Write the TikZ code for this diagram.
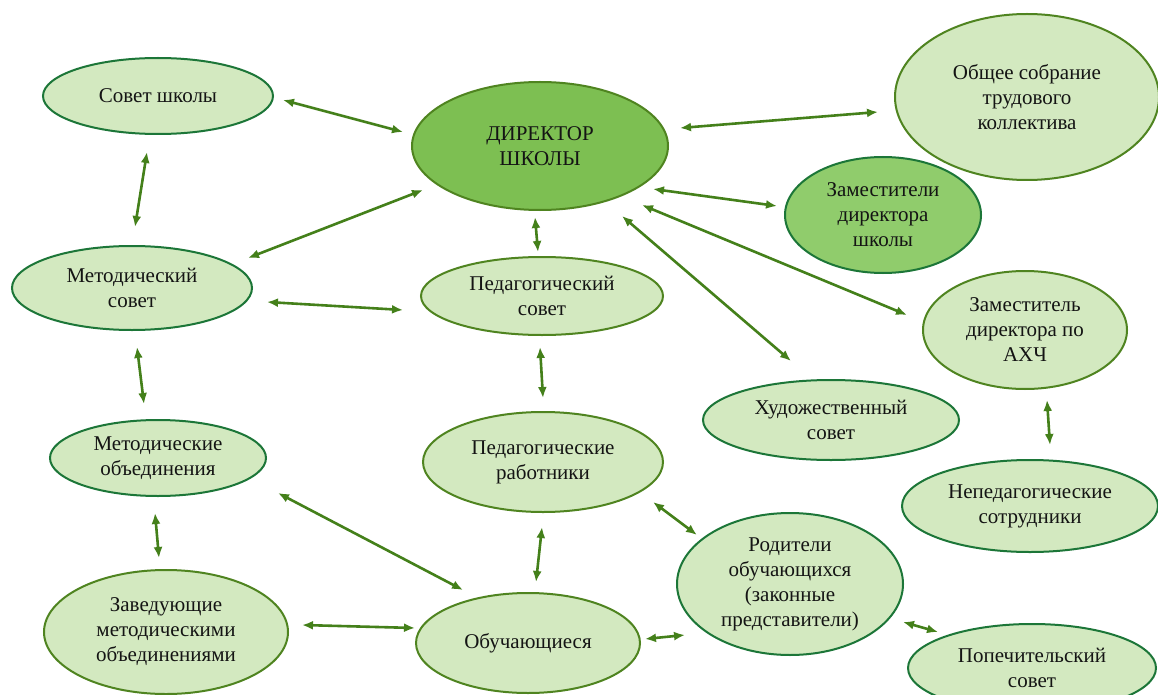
\documentclass[tikz,border=0pt]{standalone}
\usepackage{fontspec}
\setmainfont{Liberation Serif}
\usetikzlibrary{shapes.geometric,arrows.meta}
\definecolor{lightg}{HTML}{D3E9C0}
\definecolor{darkg}{HTML}{7DBF52}
\definecolor{midg}{HTML}{90CC6C}
\definecolor{bordT}{HTML}{1C7638}
\definecolor{bordO}{HTML}{4F8420}
\definecolor{arrc}{HTML}{44801A}
\definecolor{txt}{HTML}{141414}
\begin{document}
\begin{tikzpicture}[x=1pt,y=-1pt,
  el/.style={ellipse,draw=bordT,line width=2pt,fill=lightg,inner sep=0pt,align=center,
    text=txt,font=\fontsize{21}{25}\selectfont},
  elo/.style={el,draw=bordO},
  sz/.style 2 args={minimum width=#1pt,minimum height=#2pt},
  arr/.style={draw=arrc,line width=2.6pt,{Latex[length=11pt,width=9pt]}-{Latex[length=11pt,width=9pt]}}]
\useasboundingbox (0,0) rectangle (1158,695);
\fill[white] (0,0) rectangle (1158,695);

\node[el,sz={230}{76}] (A) at (158,96) {Совет школы};
\node[elo,fill=darkg,sz={256}{128}] (D) at (540,146) {ДИРЕКТОР\\ШКОЛЫ};
\node[elo,sz={264}{166}] (O) at (1027,97) {Общее собрание\\трудового\\коллектива};
\node[el,fill=midg,sz={196}{116}] (Z) at (883,215) {Заместители\\директора\\школы};
\node[el,sz={240}{84}] (MS) at (132,288) {Методический\\совет};
\node[elo,sz={242}{78}] (PS) at (542,296) {Педагогический\\совет};
\node[elo,sz={204}{118}] (AX) at (1025,330) {Заместитель\\директора по\\АХЧ};
\node[el,sz={256}{80}] (H) at (831,420) {Художественный\\совет};
\node[el,sz={256}{92}] (NP) at (1030,506) {Непедагогические\\сотрудники};
\node[el,sz={216}{76}] (MO) at (158,458) {Методические\\объединения};
\node[elo,sz={244}{124}] (ZV) at (166,632) {Заведующие\\методическими\\объединениями};
\node[elo,sz={240}{100}] (PR) at (543,462) {Педагогические\\работники};
\node[elo,sz={224}{100}] (OB) at (528,643) {Обучающиеся};
\node[el,sz={226}{142}] (R) at (790,584) {Родители\\обучающихся\\(законные\\представители)};
\node[el,sz={248}{88}] (PP) at (1032,668) {Попечительский\\совет};

\draw[arr] ([shift={(125,4)}]A.center) -- ([shift={(-137,-14)}]D.center);
\draw[arr] ([shift={(-11,56)}]A.center) -- ([shift={(3,-61)}]MS.center);
\draw[arr] ([shift={(-117,44)}]D.center) -- ([shift={(116,-30)}]MS.center);
\draw[arr] ([shift={(135,14)}]MS.center) -- ([shift={(-139,14)}]PS.center);
\draw[arr] ([shift={(-5,71)}]D.center) -- ([shift={(-4,-44)}]PS.center);
\draw[arr] ([shift={(140,-18)}]D.center) -- ([shift={(-149,15)}]O.center);
\draw[arr] ([shift={(113,43)}]D.center) -- ([shift={(-106,-9)}]Z.center);
\draw[arr] ([shift={(102,59)}]D.center) -- ([shift={(-118,-15)}]AX.center);
\draw[arr] ([shift={(82,70)}]D.center) -- ([shift={(-40,-59)}]H.center);
\draw[arr] ([shift={(5,59)}]MS.center) -- ([shift={(-14,-54)}]MO.center);
\draw[arr] ([shift={(-2,51)}]PS.center) -- ([shift={(0,-64)}]PR.center);
\draw[arr] ([shift={(22,70)}]AX.center) -- ([shift={(20,-61)}]NP.center);
\draw[arr] ([shift={(-3,55)}]MO.center) -- ([shift={(-7,-74)}]ZV.center);
\draw[arr] ([shift={(120,35)}]MO.center) -- ([shift={(-65,-53)}]OB.center);
\draw[arr] ([shift={(136,-7)}]ZV.center) -- ([shift={(-113,-15)}]OB.center);
\draw[arr] ([shift={(-1,65)}]PR.center) -- ([shift={(8,-61)}]OB.center);
\draw[arr] ([shift={(110,40)}]PR.center) -- ([shift={(-93,-49)}]R.center);
\draw[arr] ([shift={(117,-4)}]OB.center) -- ([shift={(-105,51)}]R.center);
\draw[arr] ([shift={(113,38)}]R.center) -- ([shift={(-94,-36)}]PP.center);
\end{tikzpicture}
\end{document}
